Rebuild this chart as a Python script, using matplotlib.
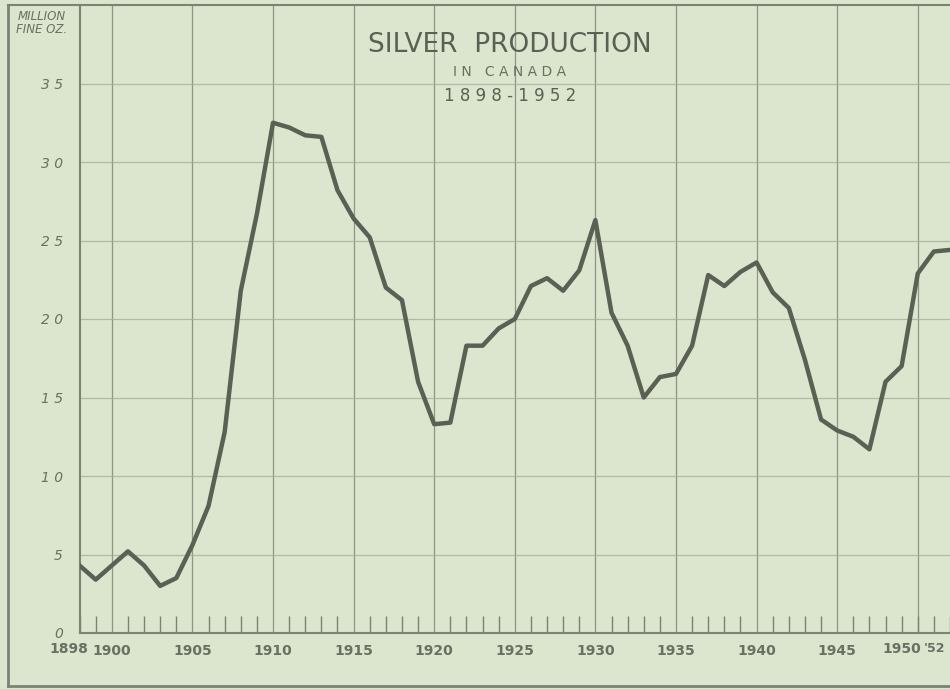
import matplotlib.pyplot as plt
from matplotlib.lines import Line2D

# silver production in Canada, million fine ounces
years = list(range(1898, 1953))
silver = [4.3, 3.4, 4.3, 5.2, 4.3, 3.0, 3.5, 5.6, 8.1, 12.8,
          21.8, 26.7, 32.5, 32.2, 31.7, 31.6, 28.2, 26.4, 25.2, 22.0,
          21.2, 16.0, 13.3, 13.4, 18.3, 18.3, 19.4, 20.0, 22.1, 22.6,
          21.8, 23.1, 26.3, 20.4, 18.3, 15.0, 16.3, 16.5, 18.3, 22.8,
          22.1, 23.0, 23.6, 21.7, 20.7, 17.4, 13.6, 12.9, 12.5, 11.7,
          16.0, 17.0, 22.9, 24.3, 24.4]

grid_years = [1900, 1905, 1910, 1915, 1920, 1925, 1930, 1935, 1940, 1945, 1950]
x_ticks = [1900, 1905, 1910, 1915, 1920, 1925, 1930, 1935, 1940, 1945]
x_labels = ['1900', '1905', '1910', '1915', '1920', '1925', '1930',
            '1935', '1940', '1945']
y_ticks = [0, 5, 10, 15, 20, 25, 30, 35]
y_labels = ['0', '5', '1 0', '1 5', '2 0', '2 5', '3 0', '3 5']

bg = '#dce5cd'
ink = '#5b6055'
text_col = '#6a7062'

fig = plt.figure(figsize=(9.5, 6.89), dpi=100, facecolor=bg)
ax = fig.add_axes([79.6 / 950, 56 / 689, 1 - 79.6 / 950, 628 / 689])
ax.set_facecolor(bg)

ax.plot(years, silver, color=ink, lw=3.2, solid_joinstyle='round', zorder=3)

ax.set_xlim(1898, 1951.73)
ax.set_ylim(0, 40)

# grid: vertical lines at the labelled years, faint horizontals every 5
for yr in grid_years:
    ax.axvline(yr, color='#8f9585', lw=0.9, zorder=1)
for v in y_ticks[1:]:
    ax.axhline(v, color='#a7ae9b', lw=0.9, alpha=0.8, zorder=1)

# small yearly ticks along the base line
ax.set_xticks(years, minor=True)
ax.tick_params(axis='x', which='minor', direction='in', length=12, width=1, color='#7d8374')
ax.set_xticks(x_ticks)
ax.set_xticklabels(x_labels, fontsize=10, fontweight='bold', color=text_col)
ax.tick_params(axis='x', which='major', length=0, pad=8)

# end labels placed by hand so they do not clash with their neighbours or the edge
lab = dict(va='top', fontsize=10, fontweight='bold', color=text_col)
ax.text(1898.55, -0.55, '1898', ha='right', **lab)
ax.text(1950.2, -0.55, '1950', ha='right', **lab)
ax.text(1951.7, -0.55, "'52", ha='right', **{**lab, 'fontsize': 9})

ax.set_yticks(y_ticks)
ax.set_yticklabels(y_labels, fontsize=10, fontstyle='italic', color=text_col)
ax.tick_params(axis='y', length=0, pad=12)

ax.spines['right'].set_visible(False)
for side in ['left', 'top', 'bottom']:
    ax.spines[side].set_color('#7d8374')
    ax.spines[side].set_linewidth(1.5)

# outer frame of the sheet
fig.add_artist(Line2D([8 / 950, 8 / 950], [3 / 689, 684 / 689], color='#7d8374', lw=2))
fig.add_artist(Line2D([8 / 950, 1], [3 / 689, 3 / 689], color='#7d8374', lw=2))
fig.add_artist(Line2D([8 / 950, 79.6 / 950], [684 / 689, 684 / 689], color='#7d8374', lw=1.5))

fig.text(42 / 950, 1 - 23 / 689, 'MILLION\nFINE OZ.', ha='center', va='center',
         fontsize=8.5, fontstyle='italic', color=text_col, linespacing=1.0)

fig.text(510 / 950, 1 - 45 / 689, 'SILVER  PRODUCTION', ha='center', va='center',
         fontsize=19, color=ink)
fig.text(510 / 950, 1 - 72 / 689, 'I N   C A N A D A', ha='center', va='center',
         fontsize=10, color=text_col)
fig.text(510 / 950, 1 - 96 / 689, '1 8 9 8 - 1 9 5 2', ha='center', va='center',
         fontsize=12, color=ink)

fig.savefig('out.png', dpi=100, facecolor=bg)
